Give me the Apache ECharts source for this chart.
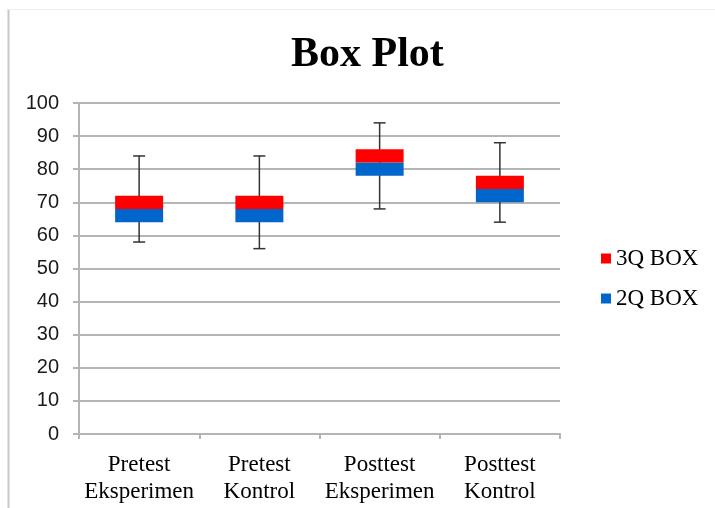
<!DOCTYPE html>
<html>
<head>
<meta charset="utf-8">
<script src="https://cdn.jsdelivr.net/npm/echarts@6/dist/echarts.min.js"></script>
<style>html,body{margin:0;padding:0;background:#fff;}#c{width:715px;height:508px;}</style>
</head>
<body>
<div id="c"></div>
<script>
const categories = ['Pretest\nEksperimen', 'Pretest\nKontrol', 'Posttest\nEksperimen', 'Posttest\nKontrol'];
const minVals = [58, 56, 68, 64];
const q1Vals = [64, 64, 78, 70];
const medianVals = [68, 68, 82, 74];
const q3Vals = [72, 72, 86, 78];
const maxVals = [84, 84, 94, 88];
const yTicks = [0, 10, 20, 30, 40, 50, 60, 70, 80, 90, 100];

const box2Q = medianVals.map((m, i) => m - q1Vals[i]);
const box3Q = q3Vals.map((q, i) => q - medianVals[i]);
const whiskers = categories.map((c, i) => [i, minVals[i], maxVals[i]]);

const chart = echarts.init(document.getElementById('c'), null, {renderer: 'canvas'});
chart.setOption({
  animation: false,
  backgroundColor: '#fff',
  title: {
    text: 'Box Plot', left: 286, top: 29,
    textStyle: {fontFamily: 'Liberation Serif', fontWeight: 'bold', fontSize: 42, color: '#000'}
  },
  legend: {
    data: ['3Q BOX', '2Q BOX'], orient: 'vertical', left: 596, top: 242,
    itemWidth: 10, itemHeight: 10, itemGap: 17, icon: 'rect',
    textStyle: {fontFamily: 'Liberation Serif', fontSize: 23, color: '#000'}
  },
  graphic: [
    {type: 'line', shape: {x1: 8.5, y1: 9, x2: 8.5, y2: 508}, style: {stroke: '#c8c8c8', lineWidth: 2}},
    {type: 'line', shape: {x1: 8, y1: 9.5, x2: 715, y2: 9.5}, style: {stroke: '#eeeeee', lineWidth: 1}}
  ],
  grid: {left: 79, right: 155, top: 103, bottom: 74},
  xAxis: {
    type: 'category', data: categories,
    axisLine: {lineStyle: {color: '#b5b5b5', width: 2}},
    axisTick: {show: true, interval: 0, lineStyle: {color: '#b5b5b5', width: 2}, length: 5},
    axisLabel: {interval: 0, fontFamily: 'Liberation Serif', fontSize: 23, color: '#000', lineHeight: 27, margin: 17}
  },
  yAxis: {
    type: 'value', min: yTicks[0], max: yTicks[yTicks.length - 1], interval: 10,
    axisLine: {show: true, lineStyle: {color: '#b5b5b5', width: 2}},
    axisTick: {show: true, lineStyle: {color: '#b5b5b5', width: 2}, length: 6},
    splitLine: {lineStyle: {color: '#b5b5b5', width: 2}},
    axisLabel: {fontFamily: 'Liberation Sans', fontSize: 20, color: '#1a1a1a', margin: 20}
  },
  series: [
    {
      type: 'custom', name: 'whisker', z: 1,
      renderItem: function (params, api) {
        const i = api.value(0);
        const lo = api.coord([i, api.value(1)]);
        const hi = api.coord([i, api.value(2)]);
        const cap = 6;
        const st = {stroke: '#333', lineWidth: 1.5};
        return {type: 'group', children: [
          {type: 'line', shape: {x1: lo[0], y1: lo[1], x2: hi[0], y2: hi[1]}, style: st},
          {type: 'line', shape: {x1: hi[0] - cap, y1: hi[1], x2: hi[0] + cap, y2: hi[1]}, style: st},
          {type: 'line', shape: {x1: lo[0] - cap, y1: lo[1], x2: lo[0] + cap, y2: lo[1]}, style: st}
        ]};
      },
      encode: {x: 0, y: [1, 2]},
      data: whiskers
    },
    {type: 'bar', name: 'base', stack: 'b', data: q1Vals, barWidth: 48, itemStyle: {color: 'rgba(0,0,0,0)'}, z: 2, silent: true},
    {type: 'bar', name: '2Q BOX', stack: 'b', data: box2Q, barWidth: 48, itemStyle: {color: '#0066CC'}, z: 3},
    {type: 'bar', name: '3Q BOX', stack: 'b', data: box3Q, barWidth: 48, itemStyle: {color: '#FF0000'}, z: 3}
  ]
});
</script>
</body>
</html>
